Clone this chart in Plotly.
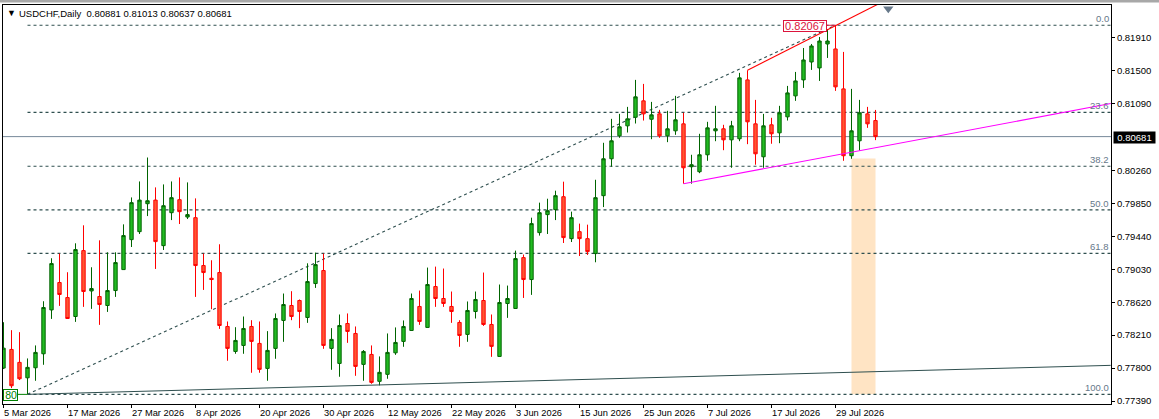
import plotly.graph_objects as go

# daily bars
opens = [
    .77800, .78032, .77871, .77679, .77804, .77978, .78524, .78865, .78678, .78442,
    .79262, .78760, .78691, .78579, .78765, .79026, .79399, .79498, .79846, .79891,
    .79324, .79734, .79896, .79680, .79672, .79076, .78918, .78989, .78318, .78007,
    .78082, .78318, .78107, .77796, .78045, .78393, .78579, .78641, .78430, .78852,
    .79014, .78045, .77858, .78355, .78231, .77846, .77970, .77635, .77722, .77990,
    .78132, .78268, .78567, .78306, .78815, .78666, .78567, .78368, .78219, .78504,
    .78641, .78343, .77945, .78604, .78542, .79175, .78902, .79486, .79710, .79772,
    .79933, .79411, .79498, .79411, .79225, .79946, .80405, .80691, .80815, .80922,
    .81126, .80897, .80964, .80691, .80753, .80840, .80306, .80244, .80455, .80753,
    .80778, .80641, .80654, .81387, .80840, .80430, .80828, .80728, .80927, .81188,
    .81387, .81610, .81536, .81834, .81772, .81275, .80443, .80629, .80964, .80881,
]
highs = [
    .78371, .78272, .78247, .77920, .78082, .78632, .79167, .79225, .78993, .79353,
    .79577, .79055, .79390, .79241, .79241, .79589, .79924, .80123, .80421, .80049,
    .80086, .80123, .80173, .80111, .79912, .79225, .79142, .79341, .78380, .78309,
    .78442, .78396, .78380, .78260, .78480, .78728, .78757, .78654, .79104, .79237,
    .79225, .78297, .78467, .78480, .78318, .78024, .78082, .77945, .78231, .78306,
    .78393, .78728, .78765, .79051, .79063, .79039, .78753, .78396, .78629, .78753,
    .78989, .78467, .78840, .78827, .79262, .79213, .79672, .79859, .79908, .80008,
    .80120, .79747, .79598, .79585, .80144, .80604, .80902, .80964, .81051, .81387,
    .81337, .81113, .81014, .81002, .81188, .80977, .80455, .80716, .80865, .81064,
    .80828, .80877, .81474, .81506, .81138, .80964, .80915, .81064, .81312, .81486,
    .81784, .81834, .81921, .82020, .82067, .81735, .81275, .81138, .81051, .81013,
]
lows = [
    .77788, .77551, .77651, .77477, .77642, .77841, .78412, .78574, .78417, .78375,
    .78562, .78537, .78338, .78499, .78686, .79026, .79307, .79469, .79692, .79034,
    .79270, .79642, .79593, .79655, .78686, .78773, .78533, .78288, .77891, .77978,
    .77978, .77742, .77742, .77642, .77916, .78127, .78396, .78297, .78363, .78798,
    .78040, .77779, .77692, .78114, .77704, .77642, .77605, .77585, .77667, .77965,
    .78065, .78268, .78338, .78306, .78562, .78562, .78363, .78065, .78127, .78417,
    .78325, .77940, .77945, .78425, .78542, .78673, .78711, .79449, .79469, .79642,
    .79357, .79369, .79195, .79208, .79117, .79804, .80306, .80666, .80732, .80844,
    .80881, .80649, .80666, .80612, .80703, .80095, .80095, .80226, .80380, .80624,
    .80512, .80293, .80624, .80587, .80331, .80293, .80592, .80599, .80881, .81126,
    .81287, .81511, .81374, .81660, .81250, .80380, .80405, .80508, .80790, .80637,
]
closes = [
    .78048, .77580, .77667, .77809, .77995, .78554, .79101, .78716, .78417, .79275,
    .78753, .78790, .78591, .78765, .79113, .79449, .79859, .79891, .79883, .79374,
    .79821, .79921, .79747, .79710, .79076, .78989, .78902, .78330, .78045, .78144,
    .78293, .78132, .77784, .78020, .78417, .78591, .78442, .78504, .78877, .79088,
    .78082, .78157, .78330, .78256, .77821, .78007, .77622, .77747, .77995, .78119,
    .78318, .78666, .78380, .78840, .78666, .78604, .78504, .78206, .78517, .78654,
    .78343, .78070, .78616, .78666, .79163, .78902, .79598, .79734, .79759, .79946,
    .79424, .79672, .79411, .79250, .79921, .80405, .80629, .80803, .80902, .81176,
    .80964, .80952, .80691, .80778, .80890, .80293, .80331, .80455, .80790, .80778,
    .80641, .80815, .81412, .80865, .80467, .80815, .80716, .80977, .81225, .81374,
    .81635, .81809, .81871, .81871, .81300, .80443, .80753, .80977, .80840, .80681,
]
bars = list(range(len(opens)))

x_tick_bars = list(range(0, 105, 8))
x_tick_labels = [
    "5 Mar 2026", "17 Mar 2026", "27 Mar 2026", "8 Apr 2026", "20 Apr 2026",
    "30 Apr 2026", "12 May 2026", "22 May 2026", "3 Jun 2026", "15 Jun 2026",
    "25 Jun 2026", "7 Jul 2026", "17 Jul 2026", "29 Jul 2026",
]
y_ticks = [.81910, .81500, .81090, .80260, .79850, .79440, .79030, .78620, .78210, .77800, .77390]

fib_labels = ["0.0", "23.6", "38.2", "50.0", "61.8", "100.0"]
fib_prices = [.82067, .80983, .80312, .79770, .79228, .77473]
fib_start_bar = 3
last_price = .80681

red_line_x = [93, 104, 120]
red_line_y = [.81506, .82067, .82869]
magenta_line_x = [85, 138.4]
magenta_line_y = [.80095, .81092]
slate_line_x = [3, 138.4]
slate_line_y = [.77473, .77834]
zone_x = [106, 109]
zone_y = [.77473, .80409]

X_RANGE = [-0.0625, 138.4375]
Y_RANGE = [.77353, .82319]
FIB_COLOR = "#2f4f4f"
LABEL_COLOR = "#66788a"
FONT = "Liberation Sans"


# reference pixels to paper fractions, the plot area runs 3..1111 by 5..404
def px(x):
    return (x - 3) / 1108


def py(y):
    return 1 - (y - 5) / 399


fig = go.Figure()

fig.add_trace(go.Candlestick(
    x=bars, open=opens, high=highs, low=lows, close=closes,
    increasing=dict(line=dict(color="#006400", width=1), fillcolor="#22bb22"),
    decreasing=dict(line=dict(color="#ff0000", width=1), fillcolor="#ff5533"),
    whiskerwidth=0,
    showlegend=False,
    hoverinfo="skip",
))

for xs, ys, color, width in [
    (red_line_x, red_line_y, "#ff0000", 1.1),
    (magenta_line_x, magenta_line_y, "#ff00ff", 1.1),
    (slate_line_x, slate_line_y, FIB_COLOR, 1),
    ([0, fib_start_bar], [fib_prices[-1], fib_prices[-1]], "#008000", 1),
    ([102.9, 104], [fib_prices[0], fib_prices[0]], "#dc143c", 1),
]:
    fig.add_trace(go.Scatter(
        x=xs, y=ys, mode="lines", line=dict(color=color, width=width),
        showlegend=False, hoverinfo="skip",
    ))

# chart shift marker on the top edge
fig.add_trace(go.Scatter(
    x=[110.6], y=[.82272], mode="markers",
    marker=dict(symbol="triangle-down", size=9, color=LABEL_COLOR),
    showlegend=False, hoverinfo="skip",
))

shapes = [
    dict(type="rect", layer="below", xref="x", yref="y",
         x0=zone_x[0], x1=zone_x[1], y0=zone_y[0], y1=zone_y[1],
         fillcolor="#ffe4c4", line=dict(width=0)),
    dict(type="line", layer="below", xref="x", yref="y",
         x0=X_RANGE[0], x1=X_RANGE[1], y0=last_price, y1=last_price,
         line=dict(color="#778899", width=1)),
    dict(type="line", layer="below", xref="x", yref="y",
         x0=fib_start_bar, x1=104, y0=fib_prices[-1], y1=fib_prices[0],
         line=dict(color=FIB_COLOR, width=1.1, dash="3px,3px")),
    # window strip above the chart
    dict(type="rect", layer="above", xref="paper", yref="paper",
         x0=px(0), x1=px(1159), y0=py(0), y1=py(2.5),
         fillcolor="#a8a8a8", line=dict(width=0)),
]
for price in fib_prices:
    shapes.append(dict(
        type="line", layer="below", xref="x", yref="y",
        x0=fib_start_bar, x1=X_RANGE[1], y0=price, y1=price,
        line=dict(color=FIB_COLOR, width=1.2, dash="3px,3px"),
    ))

annotations = [
    dict(xref="paper", yref="paper", x=px(5), y=py(13.5), text="▼", showarrow=False,
         xanchor="left", yanchor="middle", font=dict(family=FONT, size=9, color="#000000")),
    dict(xref="paper", yref="paper", x=px(18), y=py(13.5),
         text="USDCHF,Daily  0.80881 0.81013 0.80637 0.80681", showarrow=False,
         xanchor="left", yanchor="middle", borderpad=0,
         font=dict(family=FONT, size=9.5, color="#000000")),
    # price tag over the axis
    dict(xref="paper", yref="paper", x=px(1113), y=py(137.5),
         text="0.80681", showarrow=False, xanchor="left", yanchor="middle",
         bgcolor="#000000", borderpad=0, width=41, height=11, align="center",
         font=dict(family=FONT, size=9.5, color="#ffffff")),
    dict(xref="paper", yref="paper", x=px(783), y=py(26),
         text="0.82067", showarrow=False, xanchor="left", yanchor="middle",
         bgcolor="#ffffff", bordercolor="#dc143c", borderwidth=1, borderpad=0,
         width=42, height=10,
         font=dict(family=FONT, size=11, color="#dc143c")),
    dict(xref="paper", yref="paper", x=px(3), y=py(394.5),
         text="80", showarrow=False, xanchor="left", yanchor="middle",
         bgcolor="#ffffff", bordercolor="#008000", borderwidth=1, borderpad=0,
         width=13, height=10, align="right",
         font=dict(family=FONT, size=10.5, color="#008000")),
]
for label, price in zip(fib_labels, fib_prices):
    annotations.append(dict(
        xref="paper", yref="y", x=px(1110), y=price, text=label, showarrow=False,
        xanchor="right", yanchor="bottom", borderpad=0,
        font=dict(family=FONT, size=9.5, color=LABEL_COLOR),
    ))
# date labels start at their tick, not centred on it
for bar, label in zip(x_tick_bars, x_tick_labels):
    annotations.append(dict(
        xref="x", yref="paper", x=bar, y=py(413), text=label, showarrow=False,
        xanchor="left", yanchor="middle", borderpad=0, xshift=-1,
        font=dict(family=FONT, size=9.3, color="#000000"),
    ))

fig.update_layout(
    width=1159, height=419,
    margin=dict(l=3, r=48, t=5, b=15),
    paper_bgcolor="#ffffff", plot_bgcolor="#ffffff",
    showlegend=False, hovermode=False, boxgap=0.4,
    font=dict(family=FONT, size=9.5, color="#000000"),
    shapes=shapes, annotations=annotations,
    xaxis=dict(
        range=X_RANGE, rangeslider=dict(visible=False), showgrid=False, zeroline=False,
        tickmode="array", tickvals=x_tick_bars, showticklabels=False,
        ticks="outside", ticklen=3, tickcolor="#000000",
        showline=True, mirror=True, linecolor="#000000", linewidth=1,
    ),
    yaxis=dict(
        range=Y_RANGE, side="right", showgrid=False, zeroline=False,
        tickmode="array", tickvals=y_ticks, ticktext=[f"{v:.5f}" for v in y_ticks],
        ticks="outside", ticklen=3, tickcolor="#000000",
        showline=True, mirror=True, linecolor="#000000", linewidth=1,
    ),
)

fig.write_html(
    "out.html",
    config={"displayModeBar": False},
    post_script="document.body.style.margin='0';document.documentElement.style.overflow='hidden';window.scrollTo(0,0);",
)
